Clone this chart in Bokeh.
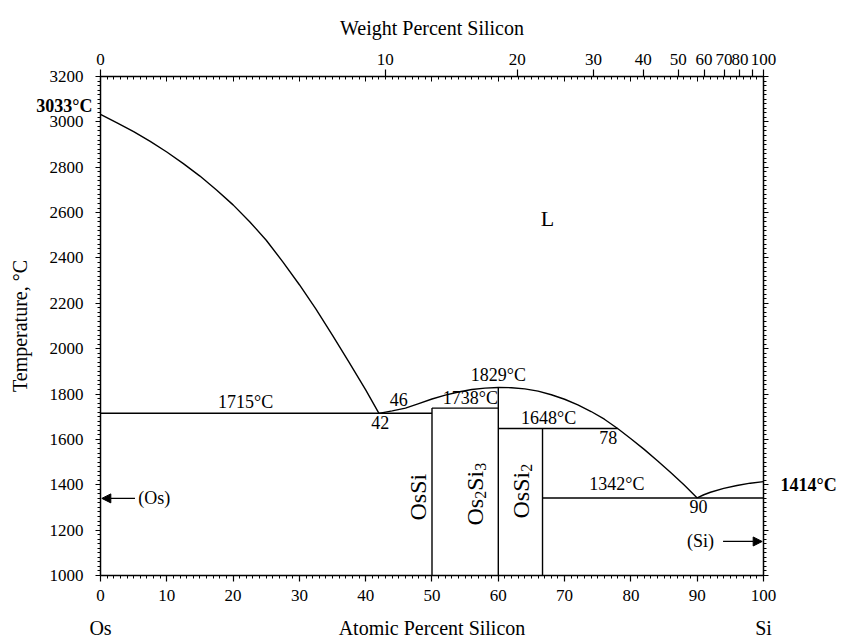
import math
from bokeh.plotting import figure
from bokeh.models import (Range1d, LinearAxis, SingleIntervalTicker, FixedTicker,
                          CustomJSTickFormatter, Label, Arrow, NormalHead, ColumnDataSource)
from bokeh.embed import file_html
from bokeh.resources import INLINE

FONT = "Liberation Serif"

# ---------------- data (atomic % Si, temperature °C) ----------------
liq_os_x = [0, 2.5, 5, 7.5, 10, 12.5, 15, 17.5, 20, 22.5, 25, 27.5, 30, 32.5, 35, 37.5, 40, 42]
liq_os_t = [3033, 2996, 2957, 2914, 2867, 2816, 2761, 2700, 2634, 2560, 2478, 2383, 2282,
            2174, 2059, 1940, 1818, 1715]

liq_mid_x = [42, 44, 46, 48, 50, 52, 54, 56, 58, 60, 62, 64, 66, 68, 70, 72, 74, 76, 78,
             80, 82, 84, 86, 88, 90]
liq_mid_t = [1715, 1726, 1738, 1758, 1778, 1795, 1809, 1820, 1826, 1829, 1828, 1823, 1813,
             1797, 1777, 1752, 1723, 1689, 1648, 1603, 1556, 1506, 1454, 1400, 1342]

liq_si_x = [90, 91, 92, 94, 96, 98, 100]
liq_si_t = [1342, 1356, 1367, 1384, 1397, 1407, 1414]

inv_t = [1715, 1738, 1648, 1342]
inv_x0 = [0, 50, 60, 66.67]
inv_x1 = [50, 60, 78, 100]

cmp_x = [50, 60, 66.67]
cmp_top = [1738, 1829, 1648]

wt_ticks = [0, 10, 20, 30, 40, 50, 60, 70, 80, 90, 100]
wt_labels = ["0", "10", "20", "30", "40", "50", "60", "70", "80", "", "100"]

arrow_x_start = [5.2, 93.9]
arrow_x_end = [0.2, 99.8]
arrow_t = [1340, 1150]

M_SI, M_OS = 28.086, 190.23


def wt_to_at(w):
    a = w / M_SI
    b = (100 - w) / M_OS
    return 100.0 * a / (a + b)


wt_pos = [wt_to_at(w) for w in wt_ticks]

# ---------------- figure (frame fills the canvas; axes fixed at the data edges) ----------------
p = figure(width=841, height=641, x_range=Range1d(-15.083, 111.765),
           y_range=Range1d(709.0, 3535.1),
           output_backend="svg", toolbar_location=None,
           x_axis_location=None, y_axis_location=None,
           min_border=0)
p.outline_line_color = None
p.grid.grid_line_color = None
p.background_fill_color = "white"
p.border_fill_color = "white"


def style(ax, line=True):
    ax.axis_line_color = "black" if line else None
    ax.axis_line_width = 1.5
    ax.major_tick_line_color = "black"
    ax.minor_tick_line_color = "black"
    ax.major_tick_line_width = 1.2
    ax.minor_tick_line_width = 1
    ax.major_label_text_font = FONT
    ax.major_label_text_font_size = "17px"
    ax.major_label_text_color = "black"
    ax.axis_label_text_font = FONT
    ax.axis_label_text_font_style = "normal"
    ax.axis_label_text_font_size = "20px"
    ax.axis_label_text_color = "black"
    ax.major_tick_in = 0
    ax.minor_tick_in = 0


Y_B = (1000, 3200)
X_B = (0, 100)

# left
left = LinearAxis(fixed_location=0, bounds=Y_B,
                  ticker=SingleIntervalTicker(interval=200, num_minor_ticks=10),
                  axis_label="Temperature, °C")
style(left)
left.major_tick_out = 5
left.minor_tick_out = 3
left.major_label_standoff = 12
left.axis_label_standoff = 16
p.add_layout(left, "left")

# bottom
bottom = LinearAxis(fixed_location=1000, bounds=X_B,
                    ticker=SingleIntervalTicker(interval=10, num_minor_ticks=10),
                    axis_label="Atomic Percent Silicon")
style(bottom)
bottom.major_tick_out = 6
bottom.minor_tick_out = 3
bottom.major_label_standoff = 9
bottom.axis_label_standoff = 12
p.add_layout(bottom, "below")

# right (ticks only)
right_big = LinearAxis(fixed_location=100, bounds=Y_B,
                       ticker=FixedTicker(ticks=[], minor_ticks=list(range(1000, 3201, 200))))
style(right_big)
right_big.minor_tick_out = 5
p.add_layout(right_big, "right")
right_small = LinearAxis(fixed_location=100, bounds=Y_B,
                         ticker=FixedTicker(ticks=[], minor_ticks=list(range(1000, 3201, 20))))
style(right_small, line=False)
right_small.minor_tick_out = 3
p.add_layout(right_small, "right")

# top: atomic-percent ticks pointing inward, weight-percent ticks + labels outward
top_big = LinearAxis(fixed_location=3200, bounds=X_B,
                     ticker=FixedTicker(ticks=[], minor_ticks=list(range(0, 101, 10))))
style(top_big)
top_big.minor_tick_in = 5
top_big.minor_tick_out = 0
p.add_layout(top_big, "above")
top_small = LinearAxis(fixed_location=3200, bounds=X_B,
                       ticker=FixedTicker(ticks=[], minor_ticks=list(range(0, 101, 1))))
style(top_small, line=False)
top_small.minor_tick_in = 3
top_small.minor_tick_out = 0
p.add_layout(top_small, "above")

fmt = CustomJSTickFormatter(args=dict(wt_at=wt_pos, wt_lab=wt_labels), code="""
let best = 0, bd = 1e9;
for (let i = 0; i < wt_at.length; i++) {
  const d = Math.abs(wt_at[i] - tick);
  if (d < bd) { bd = d; best = i; }
}
return wt_lab[best];
""")
top_wt = LinearAxis(fixed_location=3200, bounds=X_B,
                    ticker=FixedTicker(ticks=wt_pos, minor_ticks=[]), formatter=fmt,
                    axis_label="Weight Percent Silicon")
style(top_wt, line=False)
top_wt.major_tick_out = 7
top_wt.major_label_standoff = 5
top_wt.axis_label_standoff = 12
p.add_layout(top_wt, "above")

# ---------------- lines ----------------
LW = 1.4
p.line(liq_os_x, liq_os_t, line_color="black", line_width=LW)
p.line(liq_mid_x, liq_mid_t, line_color="black", line_width=LW)
p.line(liq_si_x, liq_si_t, line_color="black", line_width=LW)
p.segment(x0=inv_x0, y0=inv_t, x1=inv_x1, y1=inv_t, line_color="black", line_width=LW)
p.segment(x0=cmp_x, y0=[1000] * len(cmp_x), x1=cmp_x, y1=cmp_top, line_color="black", line_width=LW)

arr_src = ColumnDataSource(dict(x0=arrow_x_start, x1=arrow_x_end, y=arrow_t))
p.add_layout(Arrow(end=NormalHead(size=9, line_color="black", fill_color="black", line_width=1),
                   x_start="x0", y_start="y", x_end="x1", y_end="y", source=arr_src,
                   line_color="black", line_width=1.3))


# ---------------- labels ----------------
def lab(x, y, text, size="18px", align="center", baseline="middle", xo=0, yo=0,
        angle=0.0, style_="normal"):
    p.add_layout(Label(x=x, y=y, text=text, text_font=FONT, text_font_size=size,
                       text_align=align, text_baseline=baseline, x_offset=xo, y_offset=yo,
                       angle=angle, text_font_style=style_, text_color="black"))


lab(21.9, 1715, "1715°C", baseline="bottom", yo=1)
lab(45, 1738, "46", baseline="bottom", yo=2)
lab(42.2, 1715, "42", baseline="top", yo=-3)
lab(60, 1829, "1829°C", baseline="bottom", yo=2)
lab(55.8, 1738, "1738°C", baseline="bottom", yo=0)
lab(67.6, 1648, "1648°C", baseline="bottom", yo=1)
lab(76.6, 1648, "78", baseline="top", yo=-2)
lab(77.9, 1342, "1342°C", baseline="bottom", yo=4)
lab(90.2, 1342, "90", baseline="top", yo=-2)
lab(67.4, 2574, "L", size="22px")
lab(5.7, 1340, "(Os)", align="left")
lab(90.5, 1150, "(Si)")
lab(0, 3070, "3033°C", size="18px", align="right", xo=-8, style_="bold")
lab(100, 1400, "1414°C", size="18px", align="left", xo=17, style_="bold")
lab(0, 1000, "Os", size="20px", yo=-53)
lab(100, 1000, "Si", size="20px", yo=-53)

# rotated compound names, built from main text + lowered subscripts
UP = math.pi / 2
BIG, SUB = 24, 16
W_OS = 1.111 * BIG   # width of "Os"
W_SI = 0.834 * BIG   # width of "Si"
W_D = 0.5 * SUB      # width of a subscript digit
SH = 6               # subscript baseline shift (screen px, to the right)
NUDGE = -9           # horizontal nudge of the rotated labels (screen px)


def rot(x, y, text, size, xo=0, yo=0):
    lab(x, y, text, size=f"{size}px", align="left", baseline="alphabetic",
        xo=xo + NUDGE, yo=yo, angle=UP)


rot(49.26, 1242.5, "OsSi", BIG)

rot(57.81, 1220.5, "Os", BIG)
rot(57.81, 1220.5, "2", SUB, xo=SH, yo=W_OS)
rot(57.81, 1220.5, "Si", BIG, yo=W_OS + W_D)
rot(57.81, 1220.5, "3", SUB, xo=SH, yo=W_OS + W_D + W_SI)

rot(64.86, 1251.4, "OsSi", BIG, xo=-1)
rot(64.86, 1251.4, "2", SUB, xo=SH - 1, yo=W_OS + W_SI)

open("out.html", "w").write(file_html(p, INLINE))
